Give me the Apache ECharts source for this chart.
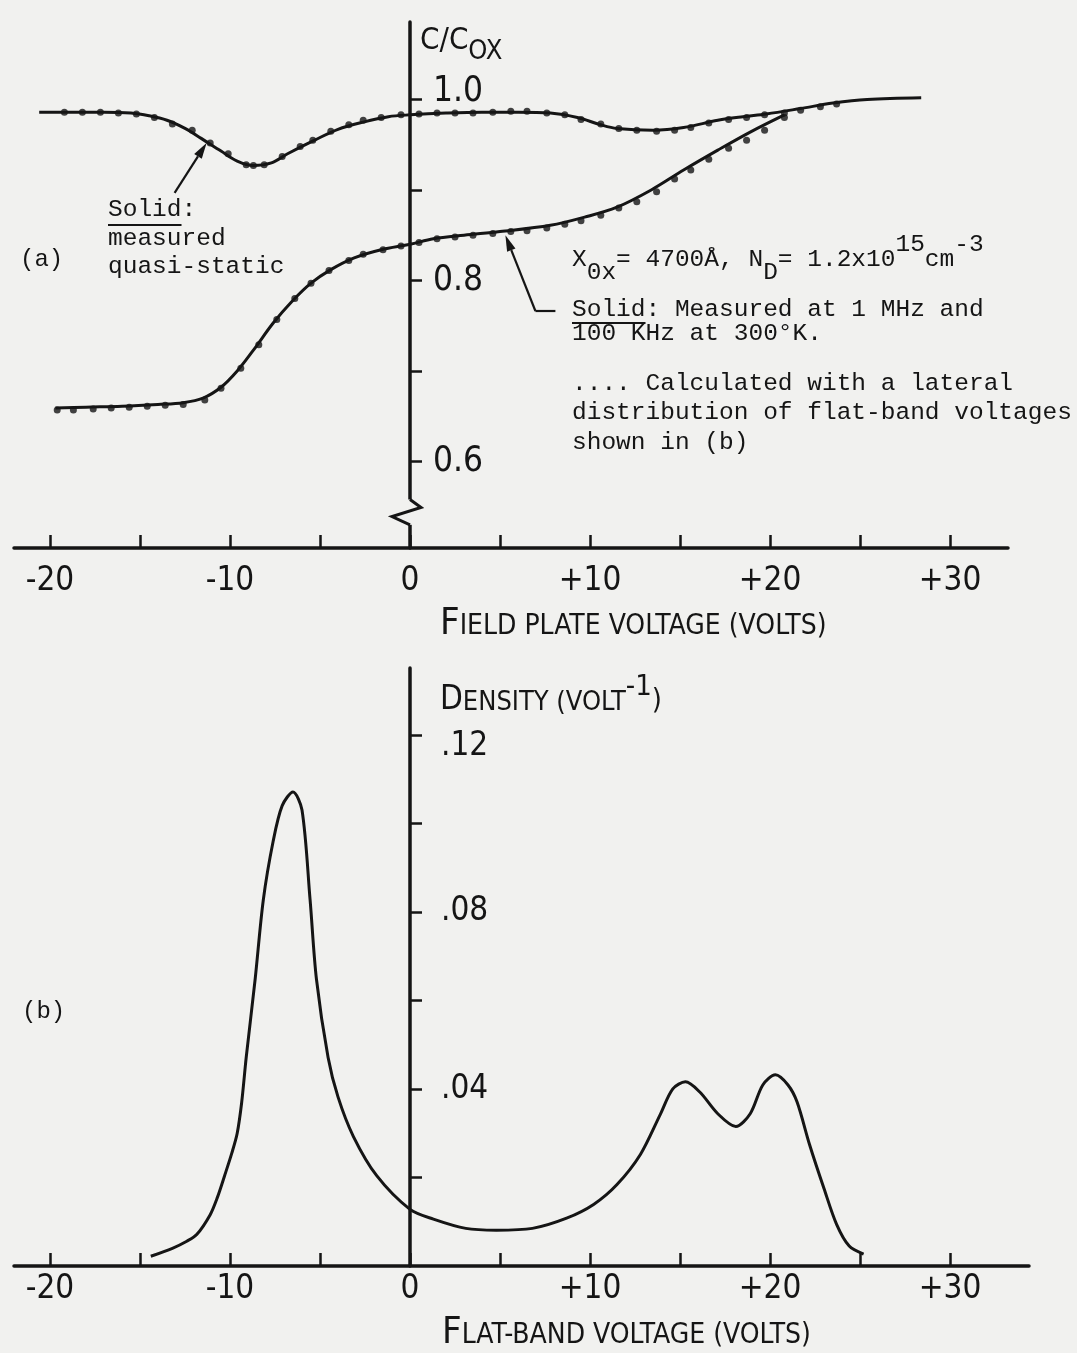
<!DOCTYPE html>
<html>
<head>
<meta charset="utf-8">
<script src="https://cdn.jsdelivr.net/npm/echarts@6/dist/echarts.min.js"></script>
<style>
  html, body { margin: 0; padding: 0; background: #f1f1ef; }
  #chart { width: 1077px; height: 1353px; }
</style>
</head>
<body>
<div id="chart"></div>
<script>
// ---------- (a) C/Cox versus field plate voltage ----------
// measured quasi-static curve [volts, C/Cox]
const quasiStaticMeasured = [
  [-20.6,0.986],[-19,0.986],[-17,0.986],[-15.5,0.985],[-14.5,0.982],[-13.5,0.977],
  [-12.5,0.968],[-11.6,0.957],[-10.5,0.943],[-9.6,0.932],[-8.7,0.927],[-7.7,0.930],
  [-6.8,0.940],[-5.3,0.955],[-4.0,0.967],[-2.6,0.975],[-1.2,0.981],[0,0.983],
  [2,0.985],[4,0.986],[6,0.986],[7.8,0.985],[9.3,0.980],[10.6,0.972],[11.5,0.968],
  [13.5,0.966],[15.2,0.969],[17.1,0.977],[18.5,0.981],[19.8,0.984],[21.7,0.990],
  [23.5,0.996],[25.4,1.000],[28.4,1.002]
];
// calculated quasi-static points
const quasiStaticCalc = [
  [-19.2,0.986],[-18.2,0.986],[-17.2,0.986],[-16.2,0.985],[-15.2,0.984],[-14.2,0.980],
  [-13.2,0.973],[-12.1,0.966],[-11.1,0.952],[-10.1,0.940],[-9.1,0.928],[-8.7,0.927],
  [-8.1,0.928],[-7.1,0.937],[-6.1,0.948],[-5.4,0.955],[-4.4,0.965],[-3.4,0.972],
  [-2.6,0.977],[-1.6,0.980],[-0.5,0.983],[0.5,0.984],[1.5,0.985],[2.5,0.985],
  [3.5,0.985],[4.6,0.986],[5.6,0.987],[6.5,0.987],[7.6,0.985],[8.6,0.983],[9.5,0.978],
  [10.6,0.973],[11.6,0.968],[12.6,0.966],[13.7,0.965],[14.7,0.966],[15.6,0.969],
  [16.6,0.974],[17.7,0.978],[18.7,0.980],[19.7,0.983],[20.8,0.985],[21.7,0.988],
  [22.8,0.992],[23.7,0.995]
];
// measured high-frequency curve (1 MHz / 100 kHz)
const highFreqMeasured = [
  [-19.7,0.659],[-18,0.660],[-16,0.661],[-14,0.663],[-12.6,0.665],[-11.5,0.670],
  [-10.5,0.682],[-9.6,0.700],[-8.7,0.723],[-7.6,0.753],[-6.6,0.776],[-5.5,0.797],
  [-4.4,0.812],[-3.1,0.825],[-1.6,0.834],[0,0.840],[1.3,0.846],[3,0.850],[5,0.854],
  [7.8,0.861],[9.7,0.870],[11.5,0.881],[13.4,0.900],[15.2,0.922],[17.1,0.944],
  [18.9,0.964],[20.8,0.983]
];
// calculated high-frequency points
const highFreqCalc = [
  [-19.6,0.657],[-18.7,0.657],[-17.6,0.658],[-16.6,0.659],[-15.6,0.660],[-14.6,0.661],
  [-13.6,0.662],[-12.6,0.663],[-11.4,0.668],[-10.5,0.681],[-9.4,0.703],[-8.4,0.729],
  [-7.4,0.757],[-6.4,0.780],[-5.5,0.797],[-4.5,0.811],[-3.4,0.822],[-2.6,0.829],
  [-1.5,0.834],[-0.5,0.838],[0.5,0.842],[1.5,0.846],[2.5,0.848],[3.5,0.850],
  [4.6,0.852],[5.6,0.854],[6.5,0.855],[7.6,0.858],[8.6,0.862],[9.5,0.866],
  [10.6,0.872],[11.6,0.880],[12.6,0.887],[13.7,0.898],[14.7,0.912],[15.6,0.922],
  [16.6,0.934],[17.7,0.946],[18.7,0.955],[19.7,0.966],[20.8,0.980]
];

// ---------- (b) lateral distribution of flat-band voltages ----------
const flatBandDensity = [
  [-14.4,0.0022],[-13.2,0.0040],[-12.4,0.0056],[-11.85,0.0071],[-11.1,0.0116],
  [-10.7,0.0155],[-10.3,0.0204],[-9.9,0.0255],[-9.6,0.0300],[-9.35,0.0370],
  [-9.1,0.0471],[-8.6,0.0649],[-8.15,0.0827],[-7.6,0.0960],[-7.1,0.1040],
  [-6.5,0.1071],[-6.0,0.1030],[-5.55,0.0827],[-5.2,0.0649],[-4.55,0.0471],[-4.0,0.0382],
  [-3.15,0.0293],[-1.85,0.0204],[0,0.0128],[1.3,0.0106],[3.1,0.0085],[4.8,0.0081],
  [6.8,0.0085],[8.7,0.0108],[10.2,0.0139],[11.5,0.0184],[12.8,0.0252],[13.9,0.0342],
  [14.6,0.0400],[15.3,0.0416],[16.1,0.0393],[17.1,0.0344],[18.1,0.0315],[18.9,0.0344],
  [19.6,0.0409],[20.3,0.0432],[21.0,0.0409],[21.5,0.0371],[22.2,0.0274],[23.0,0.0175],
  [23.7,0.0094],[24.4,0.0045],[25.2,0.0027]
];

// ---------- ticks and labels ----------
const voltTicks = [-20,-15,-10,-5,0,5,10,15,20,25,30];
const voltLabels = [-20,-10,0,10,20,30];
const capTicks = [0.6,0.7,0.8,0.9,1.0];
const capLabels = [0.6,0.8,1.0];
const densityTicks = [0.02,0.04,0.06,0.08,0.10,0.12];
const densityLabels = [0.04,0.08,0.12];

const INK = '#151515';
const PAPER = '#f1f1ef';
const NARROW = "'Liberation Sans Narrow','DejaVu Sans Condensed','Roboto Condensed','Liberation Sans',sans-serif";
const MONO = "'Liberation Mono','DejaVu Sans Mono',monospace";

// plot geometry: both panels share the same voltage scale
const PLOT_LEFT = 14;
const VOLT_MIN = -22;
const PX_PER_VOLT = 18;
const TOP_W = 994, BOT_W = 1015;
const axisShift = -(0 - VOLT_MIN) * PX_PER_VOLT;   // moves the vertical axis to 0 V

const chart = echarts.init(document.getElementById('chart'), null, { renderer: 'canvas' });

function voltAxis(gridIndex, width, labelMargin) {
  return {
    type: 'value', gridIndex: gridIndex, min: VOLT_MIN, max: VOLT_MIN + width / PX_PER_VOLT,
    axisLine: { show: true, lineStyle: { color: INK, width: 3.5 } },
    axisTick: { show: true, inside: true, length: 13, customValues: voltTicks,
                lineStyle: { color: INK, width: 2.5 } },
    axisLabel: { show: true, customValues: voltLabels, margin: labelMargin,
                 formatter: v => (v > 0 ? '+' + v : String(v)),
                 color: INK, fontFamily: NARROW, fontSize: 33 },
    splitLine: { show: false }
  };
}

const option = {
  backgroundColor: PAPER,
  animation: false,
  grid: [
    { left: PLOT_LEFT, top: 22, width: TOP_W, height: 526 },
    { left: PLOT_LEFT, top: 668, width: BOT_W, height: 598 }
  ],
  xAxis: [voltAxis(0, TOP_W, 17), voltAxis(1, BOT_W, 7)],
  yAxis: [
    {
      type: 'value', gridIndex: 0, min: 0.5044, max: 1.0856,
      position: 'left', offset: axisShift,
      axisLine: { show: true, onZero: false, lineStyle: { color: INK, width: 3.5 } },
      axisTick: { show: true, inside: true, length: 12, customValues: capTicks,
                  lineStyle: { color: INK, width: 2.5 } },
      axisLabel: {
        show: true, inside: true, margin: 23, customValues: capLabels,
        color: INK, fontFamily: NARROW, fontSize: 35,
        formatter: v => (v >= 1 ? '{hi|' + v.toFixed(1) + '}' : v.toFixed(1)),
        rich: { hi: { padding: [0, 0, 16, 0], color: INK, fontFamily: NARROW, fontSize: 35 } }
      },
      splitLine: { show: false }
    },
    {
      type: 'value', gridIndex: 1, min: 0, max: 0.1351,
      position: 'left', offset: axisShift,
      axisLine: { show: true, onZero: false, lineStyle: { color: INK, width: 3.5 } },
      axisTick: { show: true, inside: true, length: 12, customValues: densityTicks,
                  lineStyle: { color: INK, width: 2.5 } },
      axisLabel: {
        show: true, inside: true, margin: 31, customValues: densityLabels,
        color: INK, fontFamily: NARROW, fontSize: 33,
        formatter: v => {
          const s = v.toFixed(2).replace(/^0/, '');
          return v > 0.1 ? '{lo|' + s + '}' : s;
        },
        rich: { lo: { padding: [24, 0, 0, 0], color: INK, fontFamily: NARROW, fontSize: 33 } }
      },
      splitLine: { show: false }
    }
  ],
  series: [
    { name: 'quasi-static', type: 'line', xAxisIndex: 0, yAxisIndex: 0, data: quasiStaticMeasured,
      smooth: 0.35, symbol: 'none', lineStyle: { color: INK, width: 3 }, z: 3 },
    { name: 'high frequency', type: 'line', xAxisIndex: 0, yAxisIndex: 0, data: highFreqMeasured,
      smooth: 0.35, symbol: 'none', lineStyle: { color: INK, width: 3 }, z: 3 },
    { name: 'quasi-static calc', type: 'scatter', xAxisIndex: 0, yAxisIndex: 0, data: quasiStaticCalc,
      symbol: 'circle', symbolSize: 7, itemStyle: { color: INK }, z: 4 },
    { name: 'high frequency calc', type: 'scatter', xAxisIndex: 0, yAxisIndex: 0, data: highFreqCalc,
      symbol: 'circle', symbolSize: 7, itemStyle: { color: INK }, z: 4 },
    { name: 'density', type: 'line', xAxisIndex: 1, yAxisIndex: 1, data: flatBandDensity,
      smooth: 0.3, symbol: 'none', lineStyle: { color: INK, width: 3 }, z: 3 }
  ]
};
chart.setOption(option);

// ---------- annotations ----------
const measureCtx = document.createElement('canvas').getContext('2d');
function textWidth(t, size, family) {
  measureCtx.font = size + 'px ' + family;
  return measureCtx.measureText(t).width;
}
// lay out a row of text pieces sharing one baseline; dy shifts sub/superscripts
function textRun(x, baseline, parts, size, family) {
  const els = [];
  let cx = x;
  parts.forEach(p => {
    const s = p.size || size;
    const f = p.family || family;
    els.push({
      type: 'text', x: cx, y: baseline - 0.35 * s + (p.dy || 0), z: 10,
      style: { text: p.t, fill: INK, fontSize: s, fontFamily: f, align: 'left', verticalAlign: 'middle' }
    });
    cx += textWidth(p.t, s, f);
  });
  return { els: els, end: cx };
}
function arrow(tail, tip, head, half) {
  const dx = tip[0] - tail[0], dy = tip[1] - tail[1];
  const L = Math.hypot(dx, dy), ux = dx / L, uy = dy / L;
  const bx = tip[0] - ux * head, by = tip[1] - uy * head;
  return [
    { type: 'line', z: 10, shape: { x1: tail[0], y1: tail[1], x2: bx, y2: by },
      style: { stroke: INK, lineWidth: 2.2 } },
    { type: 'polygon', z: 10,
      shape: { points: [tip, [bx - uy * half, by + ux * half], [bx + uy * half, by - ux * half]] },
      style: { fill: INK } }
  ];
}
function underline(x, y, w) {
  return { type: 'line', z: 10, shape: { x1: x, y1: y, x2: x + w, y2: y }, style: { stroke: INK, lineWidth: 2 } };
}

const toPx = (g, pt) => chart.convertToPixel({ gridIndex: g }, pt);
const gfx = [];
const M = 24.5;

// panel tags
gfx.push(...textRun(20, 268, [{ t: '(a)' }], 24, MONO).els);
gfx.push(...textRun(22, 1020, [{ t: '(b)' }], 24, MONO).els);

// quasi-static label and arrow
gfx.push(...textRun(108, 218, [{ t: 'Solid:' }], M, MONO).els);
gfx.push(underline(108, 225, textWidth('Solid', M, MONO)));
gfx.push(...textRun(108, 247, [{ t: 'measured' }], M, MONO).els);
gfx.push(...textRun(108, 275, [{ t: 'quasi-static' }], M, MONO).els);
const qsTip = toPx(0, [-11.3, 0.952]);
gfx.push(...arrow([qsTip[0] - 32, qsTip[1] + 50], qsTip, 16, 4.5));

// high-frequency label and arrow
const hfTip = toPx(0, [5.3, 0.850]);
const hfBend = [hfTip[0] + 30, 311];
gfx.push(...arrow(hfBend, hfTip, 16, 4.5));
gfx.push({ type: 'line', z: 10, shape: { x1: hfBend[0], y1: hfBend[1], x2: hfBend[0] + 20, y2: hfBend[1] },
           style: { stroke: INK, lineWidth: 2.2 } });

// oxide thickness and doping
gfx.push(...textRun(572, 268, [
  { t: 'X' }, { t: '0x', dy: 13 }, { t: '= 4700Å, N' }, { t: 'D', dy: 13 },
  { t: '= 1.2x10' }, { t: '15', dy: -15 }, { t: 'cm' }, { t: '-3', dy: -15 }
], M, MONO).els);
gfx.push(...textRun(572, 318, [{ t: 'Solid: Measured at 1 MHz and' }], M, MONO).els);
gfx.push(underline(572, 323, textWidth('Solid', M, MONO)));
gfx.push(...textRun(572, 342, [{ t: '100 KHz at 300°K.' }], M, MONO).els);
gfx.push(...textRun(572, 392, [{ t: '.... Calculated with a lateral' }], M, MONO).els);
gfx.push(...textRun(572, 421, [{ t: 'distribution of flat-band voltages' }], M, MONO).els);
gfx.push(...textRun(572, 451, [{ t: 'shown in (b)' }], M, MONO).els);

// axis titles (small caps)
gfx.push(...textRun(420, 52, [{ t: 'C/C', size: 31 }, { t: 'OX', size: 27, dy: 9 }], 31, NARROW).els);
gfx.push(...textRun(440, 637, [{ t: 'F', size: 38 }, { t: 'IELD PLATE VOLTAGE (VOLTS)', size: 28 }], 28, NARROW).els);
gfx.push(...textRun(440, 712, [
  { t: 'D', size: 33 }, { t: 'ENSITY (VOLT', size: 27 }, { t: '-1', size: 29, dy: -14 }, { t: ')', size: 29 }
], 27, NARROW).els);
gfx.push(...textRun(442, 1346, [{ t: 'F', size: 38 }, { t: 'LAT-BAND VOLTAGE (VOLTS)', size: 28 }], 28, NARROW).els);

// break mark on the capacitance axis
const b0 = toPx(0, [0, 0.558]);
const b1 = toPx(0, [0, 0.530]);
const bx = b0[0];
gfx.push({ type: 'rect', z: 9, shape: { x: bx - 4, y: b0[1], width: 8, height: b1[1] - b0[1] }, style: { fill: PAPER } });
gfx.push({ type: 'polyline', z: 10,
  shape: { points: [[bx, b0[1]], [bx + 11, b0[1] + 8], [bx - 18, b0[1] + 17], [bx, b1[1]]] },
  style: { stroke: INK, lineWidth: 3, fill: null } });

chart.setOption({ graphic: gfx });
</script>
</body>
</html>
